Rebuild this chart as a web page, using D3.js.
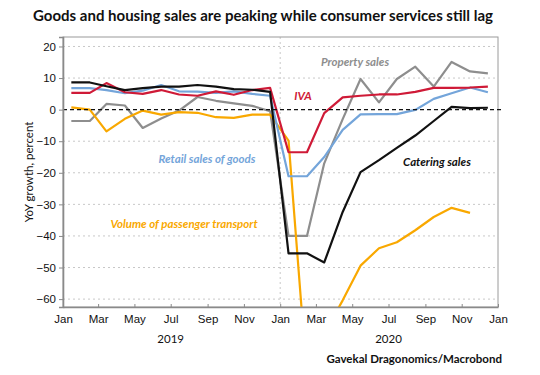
<!DOCTYPE html>
<html>
<head>
<meta charset="utf-8">
<script src="https://cdn.jsdelivr.net/npm/d3@7"></script>
<style>
  body { margin: 0; background: #fff; }
  svg { font-family: Lato, 'Open Sans', sans-serif; }
</style>
</head>
<body>
<div id="chart"></div>
<script>
const months = [
  '2019-01', '2019-02', '2019-03', '2019-04', '2019-05', '2019-06',
  '2019-07', '2019-08', '2019-09', '2019-10', '2019-11', '2019-12',
  '2020-01', '2020-02', '2020-03', '2020-04', '2020-05', '2020-06',
  '2020-07', '2020-08', '2020-09', '2020-10', '2020-11', '2020-12'
]

const cateringSales = [8.6, 8.6, 7.4, 6.2, 6.8, 7.3, 7.3, 7.8, 7.3, 6.5, 6.3, 5.6,
  -45.5, -45.5, -48.4, -32.4, -19.8, -16.0, -12.1, -8.2, -3.6, 0.9, 0.5, 0.6]
const iva = [5.3, 5.3, 8.4, 5.5, 5.0, 6.2, 4.8, 4.4, 5.8, 4.7, 6.2, 6.9,
  -13.5, -13.5, -1.1, 3.9, 4.4, 4.8, 4.8, 5.6, 6.9, 6.9, 7.0, 7.3]
const retailSalesOfGoods = [6.8, 6.8, 6.2, 5.2, 6.0, 7.8, 5.8, 5.7, 5.3, 5.8, 5.0, 4.4,
  -21.1, -21.1, -15.0, -6.4, -1.5, -1.4, -1.4, -0.1, 3.4, 5.2, 7.0, 5.5]
const propertySales = [-3.6, -3.6, 1.8, 1.3, -5.8, -2.8, -0.3, 4.0, 2.8, 2.0, 1.2, -0.5,
  -40.0, -40.0, -17.0, -3.0, 9.7, 2.3, 9.7, 13.6, 7.3, 15.1, 12.1, 11.5]
const passengerTransport = [0.7, 0.0, -6.9, -2.9, -0.3, -1.6, -0.8, -1.0, -2.4, -2.6, -1.6, -1.6,
  -9.8, -85.0, -71.0, -60.4, -49.4, -43.9, -42.0, -38.2, -34.0, -31.1, -32.7, null]

const yTicks = [20, 10, 0, -10, -20, -30, -40, -50, -60]
const years = ['2019', '2020']

const series = [
  { id: 'property', values: propertySales, color: '#8e8e8e', label: 'Property sales', at: [355, 66] },
  { id: 'transport', values: passengerTransport, color: '#f9a800', label: 'Volume of passenger transport', at: [184, 228] },
  { id: 'retail', values: retailSalesOfGoods, color: '#74a5da', label: 'Retail sales of goods', at: [207, 163] },
  { id: 'iva', values: iva, color: '#cf1a37', label: 'IVA', at: [303, 100] },
  { id: 'catering', values: cateringSales, color: '#111111', label: 'Catering sales', at: [437, 166] }
]

const width = 540
const height = 375
const margin = { top: 37, right: 42, bottom: 68, left: 63 }

const svg = d3.select('#chart')
  .append('svg')
  .attr('width', width)
  .attr('height', height)

const parseMonth = d3.timeParse('%Y-%m')
const midMonth = m => d3.timeDay.offset(parseMonth(m), 14)

const x = d3.scaleTime()
  .domain([new Date(2019, 0, 1), new Date(2021, 0, 1)])
  .range([margin.left, width - margin.right])

const y = d3.scaleLinear()
  .domain([-62.5, 23])
  .range([height - margin.bottom, margin.top])

// title
svg.append('text')
  .attr('x', 33)
  .attr('y', 21)
  .attr('font-size', 15)
  .attr('font-weight', 'bold')
  .attr('fill', '#111')
  .attr('textLength', 460)
  .attr('lengthAdjust', 'spacingAndGlyphs')
  .text('Goods and housing sales are peaking while consumer services still lag')

// grid
const grid = svg.append('g').attr('class', 'grid')
grid.selectAll('line.h')
  .data(yTicks.filter(t => t !== 0))
  .join('line')
  .attr('class', 'h')
  .attr('x1', margin.left)
  .attr('x2', width - margin.right)
  .attr('y1', d => y(d))
  .attr('y2', d => y(d))
  .attr('stroke', '#c8c8c8')
  .attr('stroke-dasharray', '2,3')

grid.append('line')
  .attr('x1', x(new Date(2020, 0, 1)))
  .attr('x2', x(new Date(2020, 0, 1)))
  .attr('y1', margin.top)
  .attr('y2', height - margin.bottom)
  .attr('stroke', '#c8c8c8')
  .attr('stroke-dasharray', '2,3')

// frame
svg.append('rect')
  .attr('x', margin.left)
  .attr('y', margin.top)
  .attr('width', width - margin.left - margin.right)
  .attr('height', height - margin.top - margin.bottom)
  .attr('fill', 'none')
  .attr('stroke', '#9a9a9a')

// clip for lines
svg.append('clipPath')
  .attr('id', 'plot-clip')
  .append('rect')
  .attr('x', margin.left)
  .attr('y', margin.top)
  .attr('width', width - margin.left - margin.right)
  .attr('height', height - margin.top - margin.bottom)

const line = d3.line()
  .defined(d => d.value != null)
  .x(d => x(d.date))
  .y(d => y(d.value))

svg.append('g')
  .attr('class', 'lines')
  .attr('clip-path', 'url(#plot-clip)')
  .selectAll('path')
  .data(series)
  .join('path')
  .attr('class', s => s.id)
  .attr('fill', 'none')
  .attr('stroke', s => s.color)
  .attr('stroke-width', 2.2)
  .attr('stroke-linejoin', 'round')
  .attr('d', s => line(months.map((m, i) => ({ date: midMonth(m), value: s.values[i] }))))

// zero line
svg.append('line')
  .attr('x1', margin.left)
  .attr('x2', width - margin.right + 3)
  .attr('y1', y(0))
  .attr('y2', y(0))
  .attr('stroke', '#111')
  .attr('stroke-width', 1.3)
  .attr('stroke-dasharray', '4,3')

// axes
const xAxis = g => g
  .attr('transform', `translate(0,${height - margin.bottom})`)
  .call(d3.axisBottom(x)
    .ticks(d3.timeMonth.every(2))
    .tickFormat(d3.timeFormat('%b'))
    .tickSizeInner(-3)
    .tickSizeOuter(0)
    .tickPadding(8))
  .call(g => g.select('.domain').attr('stroke', '#8a8a8a').attr('stroke-width', 1.6))
  .call(g => g.selectAll('.tick line').attr('stroke', '#8a8a8a'))
  .call(g => g.selectAll('.tick text').attr('font-size', 11.5).attr('fill', '#111'))

const yAxis = g => g
  .attr('transform', `translate(${margin.left},0)`)
  .call(d3.axisLeft(y)
    .tickValues(yTicks)
    .tickSize(4)
    .tickPadding(3))
  .call(g => g.select('.domain').attr('stroke', '#8a8a8a').attr('stroke-width', 1.6))
  .call(g => g.selectAll('.tick line').attr('stroke', '#8a8a8a'))
  .call(g => g.selectAll('.tick text').attr('font-size', 11.5).attr('fill', '#111'))

svg.append('g').attr('class', 'x axis').call(xAxis)
svg.append('g').attr('class', 'y axis').call(yAxis)

svg.selectAll('text.year')
  .data(years)
  .join('text')
  .attr('class', 'year')
  .attr('x', d => x(new Date(+d, 6, 1)))
  .attr('y', 343)
  .attr('text-anchor', 'middle')
  .attr('font-size', 11.5)
  .attr('fill', '#111')
  .text(d => d)

svg.append('text')
  .attr('transform', `translate(33,${(margin.top + height - margin.bottom) / 2}) rotate(-90)`)
  .attr('text-anchor', 'middle')
  .attr('font-size', 11.5)
  .attr('fill', '#111')
  .text('YoY growth, percent')

// series labels
svg.append('g')
  .attr('class', 'labels')
  .selectAll('text')
  .data(series)
  .join('text')
  .attr('x', s => s.at[0])
  .attr('y', s => s.at[1])
  .attr('text-anchor', 'middle')
  .attr('font-size', 11.5)
  .attr('font-style', 'italic')
  .attr('font-weight', 'bold')
  .attr('fill', s => s.color)
  .text(s => s.label)

// source
svg.append('text')
  .attr('x', 502)
  .attr('y', 363)
  .attr('text-anchor', 'end')
  .attr('font-size', 11.5)
  .attr('font-weight', 'bold')
  .attr('fill', '#111')
  .text('Gavekal Dragonomics/Macrobond')
</script>
</body>
</html>
